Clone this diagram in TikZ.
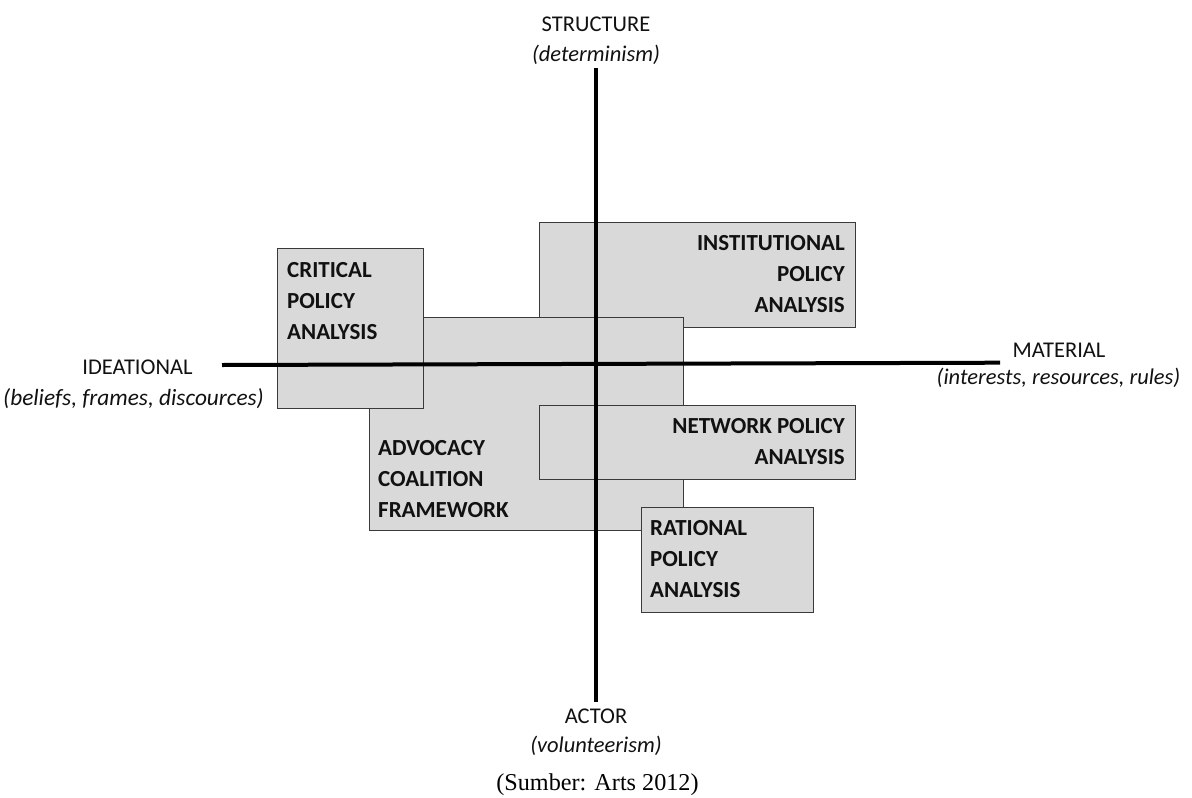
\documentclass[tikz,border=0pt]{standalone}
\usepackage{fontspec}
\setmainfont{Carlito}
\newfontfamily\serifcap{Liberation Serif}
\definecolor{boxfill}{HTML}{D9D9D9}
\definecolor{boxline}{HTML}{3A3A3A}
\definecolor{txt}{HTML}{111111}
\tikzset{
  pbox/.style={draw=boxline, fill=boxfill, line width=1.3pt, inner sep=0pt, anchor=north west},
  plabel/.style={inner sep=0pt, text=txt, font=\fontsize{23}{31}\selectfont\bfseries},
  axlabel/.style={inner sep=0pt, anchor=base, text=txt, font=\fontsize{22.5}{27}\selectfont},
  axsub/.style={inner sep=0pt, anchor=base, text=txt, font=\fontsize{22.5}{27}\selectfont\itshape},
  axis/.style={line width=4pt, black}
}
\begin{document}
\begin{tikzpicture}[x=1pt,y=-1pt]
\useasboundingbox (0,0) rectangle (1192,798);
% boxes (back to front)
\node[pbox, minimum width=316pt, minimum height=105pt] (inst) at (539,222) {};
\node[pbox, minimum width=314pt, minimum height=213pt] (acf) at (369,317) {};
\node[pbox, minimum width=146pt, minimum height=160pt] (crit) at (277,248) {};
\node[pbox, minimum width=316pt, minimum height=74pt] (net) at (539,405) {};
\node[pbox, minimum width=172pt, minimum height=105pt] (rat) at (641,507) {};
% box labels
\node[plabel, anchor=north east, align=right] (instT) at (845,235) {INSTITUTIONAL\\POLICY\\ANALYSIS};
\node[plabel, anchor=north west, align=left] (acfT) at (378,440) {ADVOCACY\\COALITION\\FRAMEWORK};
\node[plabel, anchor=north west, align=left] (critT) at (287,262) {CRITICAL\\POLICY\\ANALYSIS};
\node[plabel, anchor=north east, align=right] (netT) at (845,418) {NETWORK POLICY\\ANALYSIS};
\node[plabel, anchor=north west, align=left] (ratT) at (650,520) {RATIONAL\\POLICY\\ANALYSIS};
% axes
\coordinate (top) at (596,68);
\coordinate (bottom) at (596,702);
\coordinate (left) at (222,365);
\coordinate (right) at (1000,362.7);
\draw[axis] (left) -- (right);
\draw[axis] (top) -- (bottom);
% axis labels
\node[axlabel] (structure) at (596,31) {STRUCTURE};
\node[axsub] (structureSub) at (596,61) {(determinism)};
\node[axlabel] (actor) at (596,723) {ACTOR};
\node[axsub] (actorSub) at (596,752) {(volunteerism)};
\node[axlabel] (ideational) at (137.5,374) {IDEATIONAL};
\node[axsub, font=\fontsize{23.3}{27}\selectfont\itshape] (ideationalSub) at (133.5,405) {(beliefs, frames, discources)};
\node[axlabel] (material) at (1059,357) {MATERIAL};
\node[axsub] (materialSub) at (1058.5,384.5) {(interests, resources, rules)};
% source
\node[inner sep=0pt, anchor=base, font=\serifcap\fontsize{24.2}{29}\selectfont] (source) at (597.5,790) {(Sumber: Arts 2012)};
\end{tikzpicture}
\end{document}
